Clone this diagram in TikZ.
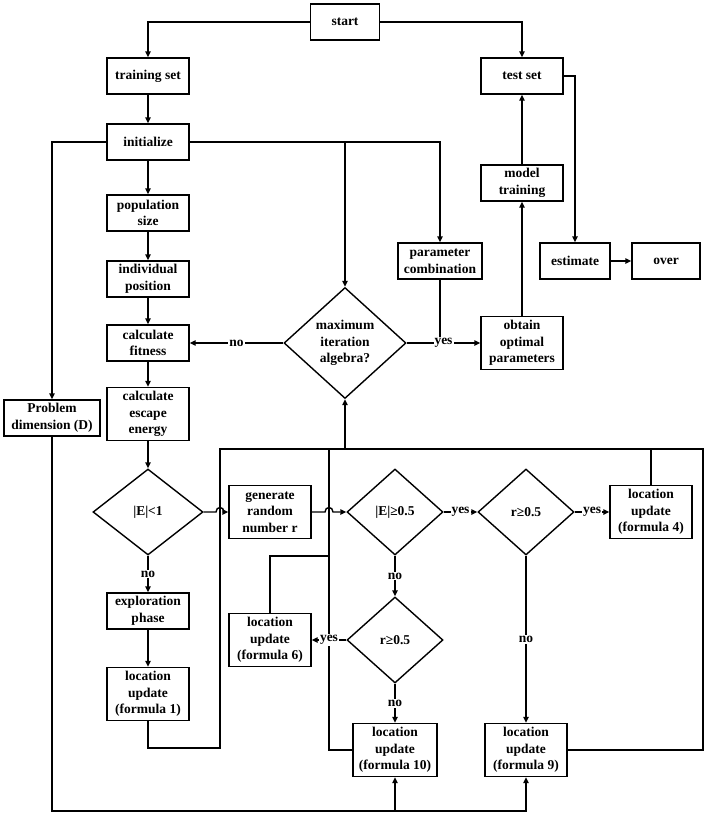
\documentclass[tikz,border=0pt]{standalone}
\usepackage{fontspec}
\setmainfont{Liberation Serif}
\usetikzlibrary{arrows.meta,shapes.geometric}

\begin{document}
\begin{tikzpicture}[x=1pt,y=-1pt,
    txt/.style={font=\bfseries\fontsize{13.5}{16.6}\selectfont},
    box/.style={txt,draw,line width=1.4pt,align=center,inner sep=1pt,minimum width=82pt,minimum height=36pt},
    tall/.style={box,minimum height=53pt},
    dia/.style={txt,draw,diamond,line width=1.4pt,align=center,inner sep=0pt},
    ln/.style={line width=1.4pt},
    arr/.style={ln,-{Triangle[length=6pt,width=5.5pt]}},
    lab/.style={txt,fill=white,inner sep=1pt}]
    \useasboundingbox (0,0) rectangle (708,815);

    % left column
    \node[box,minimum width=69pt] (start) at (345,22) {start};
    \node[box] (train) at (148,76) {training set};
    \node[box] (init) at (148,142) {initialize};
    \node[box] (popsize) at (148,213) {population\\size};
    \node[box] (indpos) at (148,279) {individual\\position};
    \node[box] (fitness) at (148,343) {calculate\\fitness};
    \node[tall] (energy) at (148,414) {calculate\\escape\\energy};
    \node[box,minimum width=96pt] (probdim) at (52,418) {Problem\\dimension (D)};
    \node[dia,minimum width=110pt,minimum height=86pt] (dE1) at (148,512) {|E|<1};
    \node[box] (explore) at (148,611) {exploration\\phase};
    \node[tall] (loc1) at (148,694) {location\\update\\(formula 1)};

    % upper right part
    \node[box] (test) at (522,76) {test set};
    \node[box] (modelt) at (522,183) {model\\training};
    \node[box,minimum width=84pt] (paramc) at (440,261) {parameter\\combination};
    \node[box,minimum width=70pt] (estim) at (575,261) {estimate};
    \node[box,minimum width=68pt] (over) at (666,261) {over};
    \node[dia,minimum width=122pt,minimum height=111pt] (maxit) at (345,343) {maximum\\iteration\\algebra?};
    \node[tall] (optp) at (522,343) {obtain\\optimal\\parameters};

    % search phase
    \node[tall] (genr) at (270,512) {generate\\random\\number r};
    \node[dia,minimum width=96pt,minimum height=86pt] (dE05) at (395,512) {|E|≥0.5};
    \node[dia,minimum width=96pt,minimum height=86pt] (dR1) at (526,512) {r≥0.5};
    \node[tall] (loc4) at (651,512) {location\\update\\(formula 4)};
    \node[dia,minimum width=96pt,minimum height=86pt] (dR2) at (395,640) {r≥0.5};
    \node[tall] (loc6) at (270,640) {location\\update\\(formula 6)};
    \node[tall,minimum width=84pt] (loc10) at (395,750) {location\\update\\(formula 10)};
    \node[tall] (loc9) at (526,750) {location\\update\\(formula 9)};

    \coordinate (loopTL) at (220,449);
    \coordinate (loopTR) at (703,449);
    \coordinate (loopBL) at (220,748);
    \coordinate (midV) at (329,449);
    \coordinate (bot) at (52,811);

    % main flow
    \draw[arr] (start.west) -| (train.north);
    \draw[arr] (start.east) -| (test.north);
    \draw[arr] (train) -- (init);
    \draw[arr] (init) -- (popsize);
    \draw[arr] (popsize) -- (indpos);
    \draw[arr] (indpos) -- (fitness);
    \draw[arr] (fitness) -- (energy);
    \draw[arr] (energy) -- (dE1);
    \draw[arr] (init.west) -| (probdim.north);
    \draw[arr] (init.east) -| (paramc.north);
    \draw[arr] (init.east -| maxit.north) -- (maxit.north);
    \draw[ln] (paramc.south) -- (paramc.south |- maxit.east);
    \draw[arr] (maxit.east) -- node[lab]{yes} (optp.west);
    \draw[arr] (maxit.west) -- node[lab]{no} (fitness.east);
    \draw[arr] (optp) -- (modelt);
    \draw[arr] (modelt) -- (test);
    \draw[arr] (test.east) -| (estim.north);
    \draw[arr] (estim) -- (over);

    % dimension line along the bottom
    \draw[arr] (probdim.south) -- (bot) -| (loc9.south);
    \draw[arr] (bot -| loc10.south) -- (loc10.south);

    % branches
    \draw[arr] (dE1.east) -- (216,512) .. controls (216,506) and (224,506) .. (224,512) -- (genr.west);
    \draw[arr] (genr.east) -- (325,512) .. controls (325,506) and (333,506) .. (333,512) -- (dE05.west);
    \draw[arr] (dE05.east) -- node[lab]{yes} (dR1.west);
    \draw[arr] (dR1.east) -- node[lab]{yes} (loc4.west);
    \draw[arr] (dE05.south) -- node[lab]{no} (dR2.north);
    \draw[arr] (dR1.south) -- node[lab]{no} (loc9.north);
    \draw[arr] (dR2.south) -- node[lab,pos=0.5]{no} (loc10.north);
    \draw[arr] (dE1.south) -- node[lab]{no} (explore.north);
    \draw[arr] (explore) -- (loc1);

    % return loop
    \draw[ln] (loc1.south) |- (loopBL) -- (loopTL) -- (loopTR) |- (loc9.east);
    \draw[ln] (loc4.north) -- (loc4.north |- loopTR);
    \draw[ln] (loc10.west) -| (midV);
    \draw[ln] (loc6.north) |- (329,556);
    \draw[arr] (loopTL -| maxit.south) -- (maxit.south);
    \draw[arr] (dR2.west) -- node[lab]{yes} (loc6.east);
\end{tikzpicture}
\end{document}
